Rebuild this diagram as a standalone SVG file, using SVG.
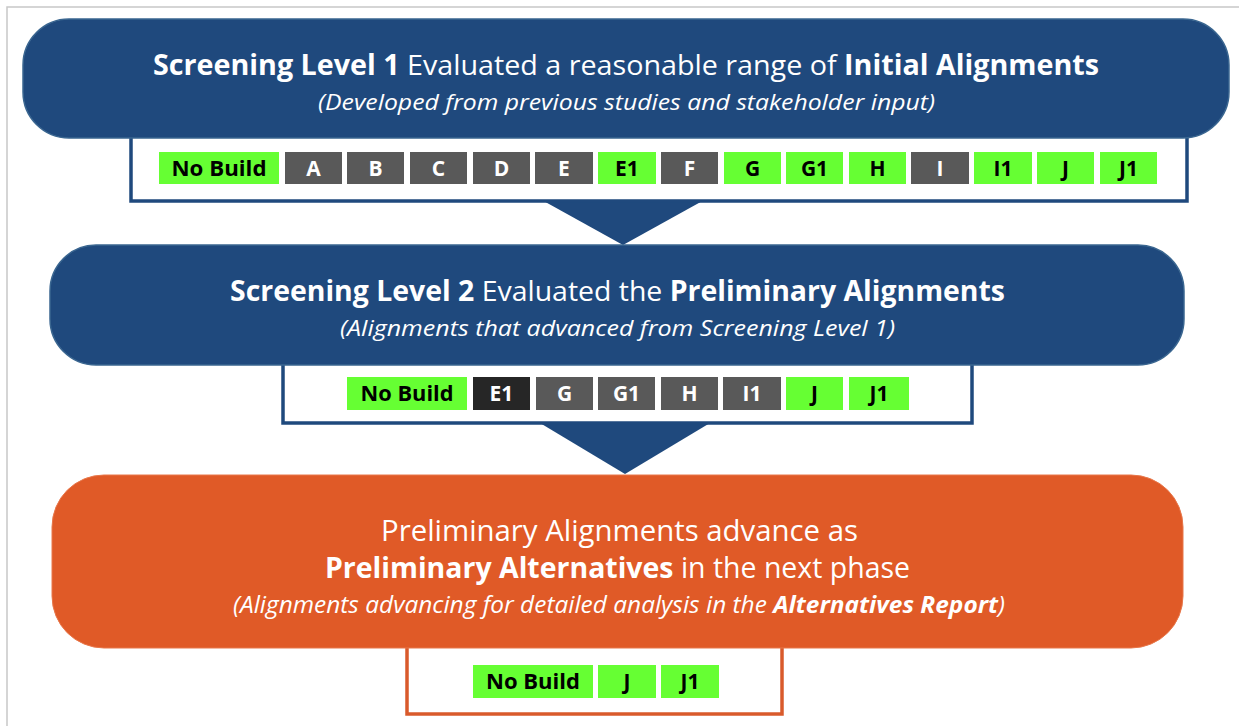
<svg xmlns="http://www.w3.org/2000/svg" width="1239" height="726" viewBox="0 0 1239 726">
<defs>
<style>
.frame{fill:#fff;stroke:#c8c8c8;stroke-width:1.5}
.blue{fill:#1f497d;stroke:#3a6690;stroke-width:1.5}
.orange{fill:#e05a27;stroke:#e8774a;stroke-width:1}
.pb{fill:#fff;stroke:#1f497d;stroke-width:3.5}
.po{fill:#fff;stroke:#d95a2b;stroke-width:3.5}
.tb{fill:#1f497d}
.g{fill:#66ff33}
.d{fill:#595959}
.k{fill:#262626}
.t{font-family:"Open Sans","Liberation Sans",sans-serif;fill:#fff}
.tl{font-family:"Open Sans","Liberation Sans",sans-serif;font-weight:bold;font-size:21px;text-anchor:middle}
.tg{fill:#000}
.tw{fill:#fff}
.b{font-weight:bold}
</style>
</defs>
<rect class="frame" x="7" y="7" width="1250" height="740"/>

<g id="connectors">
<polygon class="tb" points="540,199 706,199 623,245"/>
<polygon class="tb" points="540,423 710,423 625,474"/>
</g>

<g id="panel1">
<rect class="pb" x="131" y="120" width="1056" height="81"/>
<rect class="g" x="159" y="152" width="120" height="32"/><text class="tl tg" x="219" y="176" textLength="95" lengthAdjust="spacingAndGlyphs">No Build</text>
<rect class="d" x="285" y="152" width="57" height="32"/><text class="tl tw" x="313.5" y="176">A</text>
<rect class="d" x="347" y="152" width="57" height="32"/><text class="tl tw" x="375.5" y="176">B</text>
<rect class="d" x="410" y="152" width="57" height="32"/><text class="tl tw" x="438.5" y="176">C</text>
<rect class="d" x="473" y="152" width="57" height="32"/><text class="tl tw" x="501.5" y="176">D</text>
<rect class="d" x="535" y="152" width="58" height="32"/><text class="tl tw" x="564" y="176">E</text>
<rect class="g" x="598" y="152" width="58" height="32"/><text class="tl tg" x="627" y="176">E1</text>
<rect class="d" x="661" y="152" width="57" height="32"/><text class="tl tw" x="689.5" y="176">F</text>
<rect class="g" x="724" y="152" width="57" height="32"/><text class="tl tg" x="752.5" y="176">G</text>
<rect class="g" x="786" y="152" width="57" height="32"/><text class="tl tg" x="814.5" y="176">G1</text>
<rect class="g" x="849" y="152" width="57" height="32"/><text class="tl tg" x="877.5" y="176">H</text>
<rect class="d" x="911" y="152" width="58" height="32"/><text class="tl tw" x="940" y="176">I</text>
<rect class="g" x="974" y="152" width="58" height="32"/><text class="tl tg" x="1003" y="176">I1</text>
<rect class="g" x="1037" y="152" width="57" height="32"/><text class="tl tg" x="1065.5" y="176">J</text>
<rect class="g" x="1100" y="152" width="57" height="32"/><text class="tl tg" x="1128.5" y="176">J1</text>
</g>

<g id="level1">
<rect class="blue" x="23" y="19" width="1206" height="119" rx="46" ry="46"/>
<text class="t" x="153" y="75" font-size="28" textLength="946" lengthAdjust="spacingAndGlyphs"><tspan class="b">Screening Level 1</tspan> Evaluated a reasonable range of <tspan class="b">Initial Alignments</tspan></text>
<text class="t" x="318" y="110" font-size="22" font-style="italic" textLength="617" lengthAdjust="spacingAndGlyphs">(Developed from previous studies and stakeholder input)</text>
</g>

<g id="panel2">
<rect class="pb" x="283" y="350" width="689" height="73"/>
<rect class="g" x="347" y="377" width="120" height="33"/><text class="tl tg" x="407" y="401" textLength="93" lengthAdjust="spacingAndGlyphs">No Build</text>
<rect class="k" x="473" y="377" width="57" height="33"/><text class="tl tw" x="501.5" y="401">E1</text>
<rect class="d" x="536" y="377" width="57" height="33"/><text class="tl tw" x="564.5" y="401">G</text>
<rect class="d" x="598" y="377" width="57" height="33"/><text class="tl tw" x="626.5" y="401">G1</text>
<rect class="d" x="661" y="377" width="57" height="33"/><text class="tl tw" x="689.5" y="401">H</text>
<rect class="d" x="723" y="377" width="58" height="33"/><text class="tl tw" x="752" y="401">I1</text>
<rect class="g" x="786" y="377" width="57" height="33"/><text class="tl tg" x="814.5" y="401">J</text>
<rect class="g" x="849" y="377" width="60" height="33"/><text class="tl tg" x="879" y="401">J1</text>
</g>

<g id="level2">
<rect class="blue" x="50" y="245" width="1134" height="120" rx="46" ry="46"/>
<text class="t" x="230" y="301" font-size="28" textLength="775" lengthAdjust="spacingAndGlyphs"><tspan class="b">Screening Level 2</tspan> Evaluated the <tspan class="b">Preliminary Alignments</tspan></text>
<text class="t" x="340" y="336" font-size="22" font-style="italic" textLength="555" lengthAdjust="spacingAndGlyphs">(Alignments that advanced from Screening Level 1)</text>
</g>

<g id="panel3">
<rect class="po" x="407" y="630" width="375" height="84"/>
<rect class="g" x="473" y="665" width="120" height="33"/><text class="tl tg" x="533" y="689" textLength="94" lengthAdjust="spacingAndGlyphs">No Build</text>
<rect class="g" x="598" y="665" width="58" height="33"/><text class="tl tg" x="627" y="689">J</text>
<rect class="g" x="661" y="665" width="58" height="33"/><text class="tl tg" x="690" y="689">J1</text>
</g>

<g id="result">
<rect class="orange" x="52" y="475" width="1131" height="173" rx="52" ry="52"/>
<text class="t" x="381" y="541" font-size="29" textLength="477" lengthAdjust="spacingAndGlyphs">Preliminary Alignments advance as</text>
<text class="t" x="325" y="578" font-size="29" textLength="585" lengthAdjust="spacingAndGlyphs"><tspan class="b">Preliminary Alternatives</tspan> in the next phase</text>
<text class="t" x="233" y="613" font-size="23" font-style="italic" textLength="772" lengthAdjust="spacingAndGlyphs">(Alignments advancing for detailed analysis in the <tspan class="b">Alternatives Report</tspan>)</text>
</g>
</svg>
